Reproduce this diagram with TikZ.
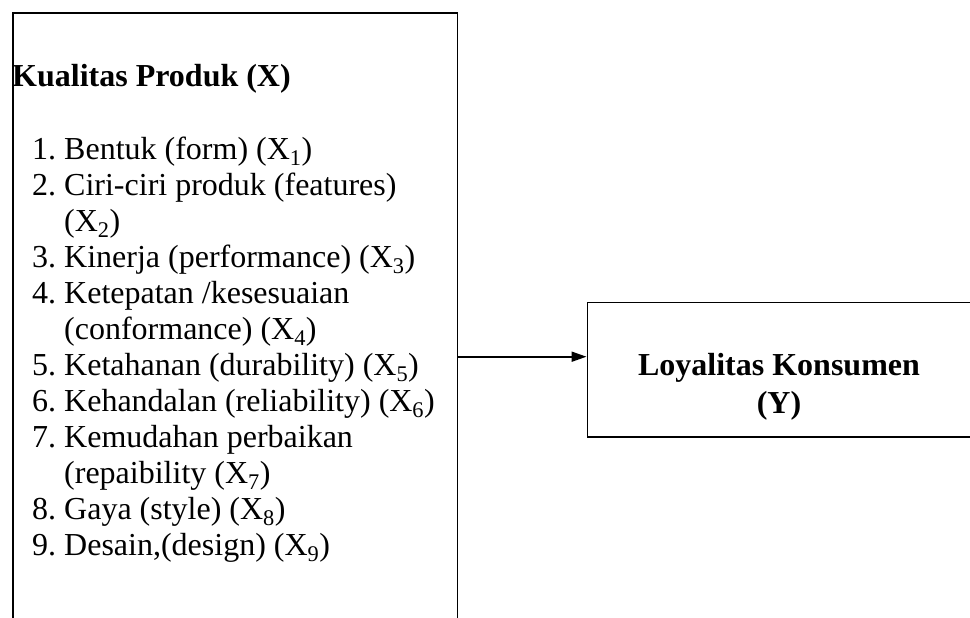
\documentclass[tikz,border=0pt]{standalone}
\usepackage{fontspec}
\setmainfont{Liberation Serif}
\usetikzlibrary{arrows.meta}
\newcommand{\xsub}[1]{(X\textsubscript{#1})}
\begin{document}
\begin{tikzpicture}[x=1pt,y=-1pt,
  box/.style={draw=black, line width=1.7pt, rectangle, inner sep=0pt, anchor=north west},
  txt/.style={anchor=base west, inner sep=0pt, font=\fontsize{32}{36}\selectfont},
  btxt/.style={inner sep=0pt, font=\fontsize{32}{38}\selectfont\bfseries, align=center},
  conn/.style={line width=1.9pt, -{Triangle[length=15pt, width=10pt]}}]
\useasboundingbox (0,0) rectangle (970,618);
\clip (0,0) rectangle (970,618);
\node[box, minimum width=444.5pt, minimum height=660pt] (X) at (12,12) {};
\node[box, minimum width=386pt, minimum height=134.3pt] (Y) at (586.5,301.7) {};
\node[txt, font=\fontsize{32}{36}\selectfont\bfseries] (title) at (12,87) {Kualitas Produk (X)};
\node[txt] (n1) at (32,159.5) {1.};
\node[txt] (t1) at (64,159.5) {Bentuk (form) \xsub{1}};
\node[txt] (n2) at (32,195.5) {2.};
\node[txt] (t2) at (64,195.5) {Ciri-ciri produk (features)};
\node[txt] (t2b) at (64,231.5) {\xsub{2}};
\node[txt] (n3) at (32,267.5) {3.};
\node[txt] (t3) at (64,267.5) {Kinerja (performance) \xsub{3}};
\node[txt] (n4) at (32,303.5) {4.};
\node[txt] (t4) at (64,303.5) {Ketepatan /kesesuaian};
\node[txt] (t4b) at (64,339.5) {(conformance) \xsub{4}};
\node[txt] (n5) at (32,375.5) {5.};
\node[txt] (t5) at (64,375.5) {Ketahanan (durability) \xsub{5}};
\node[txt] (n6) at (32,411.5) {6.};
\node[txt] (t6) at (64,411.5) {Kehandalan (reliability) \xsub{6}};
\node[txt] (n7) at (32,447.5) {7.};
\node[txt] (t7) at (64,447.5) {Kemudahan perbaikan};
\node[txt] (t7b) at (64,483.5) {(repaibility \xsub{7}};
\node[txt] (n8) at (32,519.5) {8.};
\node[txt] (t8) at (64,519.5) {Gaya (style) \xsub{8}};
\node[txt] (n9) at (32,555.5) {9.};
\node[txt] (t9) at (64,555.5) {Desain,(design) \xsub{9}};
\node[btxt] (ylab) at (779,387) {Loyalitas Konsumen\\(Y)};
\coordinate (a) at (X.east |- 0,356.7);
\draw[conn] (a) -- (Y.west |- a);
\end{tikzpicture}
\end{document}
